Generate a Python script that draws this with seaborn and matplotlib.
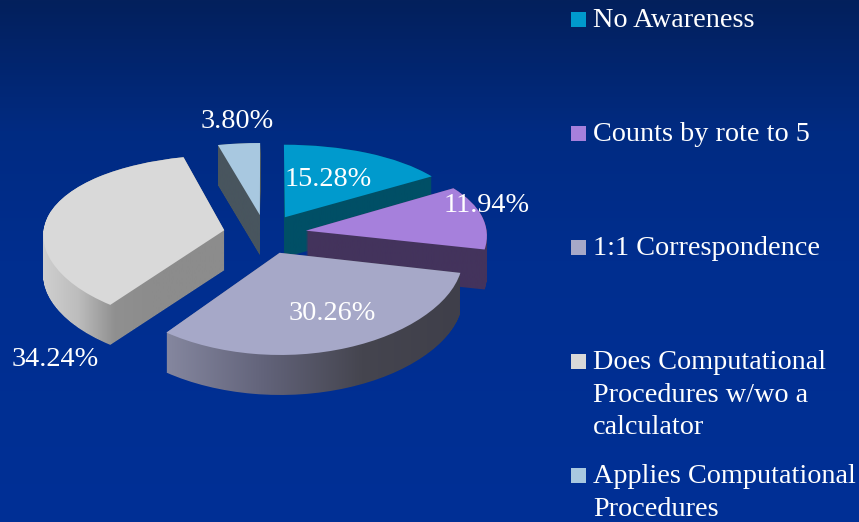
# %% Import required libraries
import numpy as np
import matplotlib
matplotlib.use('Agg')
import matplotlib.pyplot as plt
import seaborn as sns
from matplotlib.colors import LinearSegmentedColormap
from matplotlib.patches import Rectangle
from matplotlib.path import Path
from matplotlib.transforms import Transform

# %% Data
categories = ['No Awareness', 'Counts by rote to 5', '1:1 Correspondence',
              'Does Computational\nProcedures w/wo a\ncalculator',
              'Applies Computational\nProcedures']
shares = [15.28, 11.94, 30.26, 34.24, 3.80]

# %% Style
sns.set_style('white')
plt.rcParams['font.family'] = ['Liberation Serif', 'DejaVu Serif']
top_colors = sns.color_palette(['#009acd', '#a680dc', '#a6a8c8', '#d9d9d9', '#a8c8e0'])
side_colors = [['#004f66', '#004f66'],
               ['#43335c', '#43335c'],
               ['#85879f', '#62637a', '#45454f', '#3f3f4a'],
               ['#d0d0d0', '#bdbdbd', '#909090', '#8c8c8c', '#8c8c8c', '#8c8c8c'],
               ['#48555e', '#48555e']]
text_size = 20.3
depth = 40
WIDTH, HEIGHT = 859, 522


class Tilt(Transform):
    # unit pie coordinates -> image pixels, far side squeezed a bit
    input_dims = output_dims = 2

    def __init__(self, dy=0):
        super().__init__()
        self.dy = dy

    def transform_non_affine(self, xy):
        xy = np.asarray(xy, dtype=float)
        return np.column_stack([265 + 181 * xy[:, 0] / (1 + 0.05 * xy[:, 1]),
                                234 - 85 * xy[:, 1] / (1 + 0.12 * xy[:, 1]) + self.dy])


# %% Figure
fig = plt.figure(figsize=(WIDTH / 100, HEIGHT / 100), dpi=100)
ax = fig.add_axes([0, 0, 1, 1])

wedges, _ = ax.pie(shares, colors=top_colors, startangle=90, counterclock=False,
                   explode=[0.23] * len(shares), normalize=True,
                   wedgeprops={'linewidth': 0})
ax.set_aspect('auto')
ax.set_axis_off()

# background
bg = LinearSegmentedColormap.from_list('bg', [(0, '#03205c'), (0.12, '#02256e'), (0.25, '#012b82'),
                                              (0.5, '#002e8f'), (1, '#003096')])
ax.imshow(np.linspace(0, 1, 256).reshape(-1, 1), cmap=bg, aspect='auto',
          extent=(0, WIDTH, HEIGHT, 0), zorder=0)

# sides: the wedge outline swept down, filled with a left-right gradient
for z, i in enumerate([4, 3, 0, 1, 2]):
    parts = [Tilt(d).transform_path(wedges[i].get_path()) for d in range(depth + 1)]
    body = Path.make_compound_path(*parts)
    x0, x1 = body.vertices[:, 0].min(), body.vertices[:, 0].max()
    cmap = LinearSegmentedColormap.from_list(f'side{i}', side_colors[i])
    im = ax.imshow(np.linspace(0, 1, 256).reshape(1, -1), cmap=cmap, aspect='auto',
                   extent=(x0, x1, HEIGHT, 0), zorder=2 + z)
    im.set_clip_path(body, ax.transData)

# tops
for w in wedges:
    w.set_transform(Tilt() + ax.transData)
    w.set_zorder(10)

# percent labels
label_xy = [(328, 180), (487, 206), (332, 313), (55, 360), (237, 122)]
for v, (x, y) in zip(shares, label_xy):
    ax.text(x, y, f'{v:.2f}%', color='white', fontsize=text_size,
            ha='center', va='center', zorder=12)

# legend
legend_y = [19, 133, 247, 361, 475]
for name, col, y in zip(categories, top_colors, legend_y):
    ax.add_patch(Rectangle((571, y - 7.5), 15, 15, facecolor=col, edgecolor='none', zorder=11))
    ax.text(593, y - 11, name, color='white', fontsize=text_size, ha='left', va='top',
            linespacing=1.4, zorder=12)

ax.set_xlim(0, WIDTH)
ax.set_ylim(HEIGHT, 0)

fig.savefig('out.png', dpi=100)
